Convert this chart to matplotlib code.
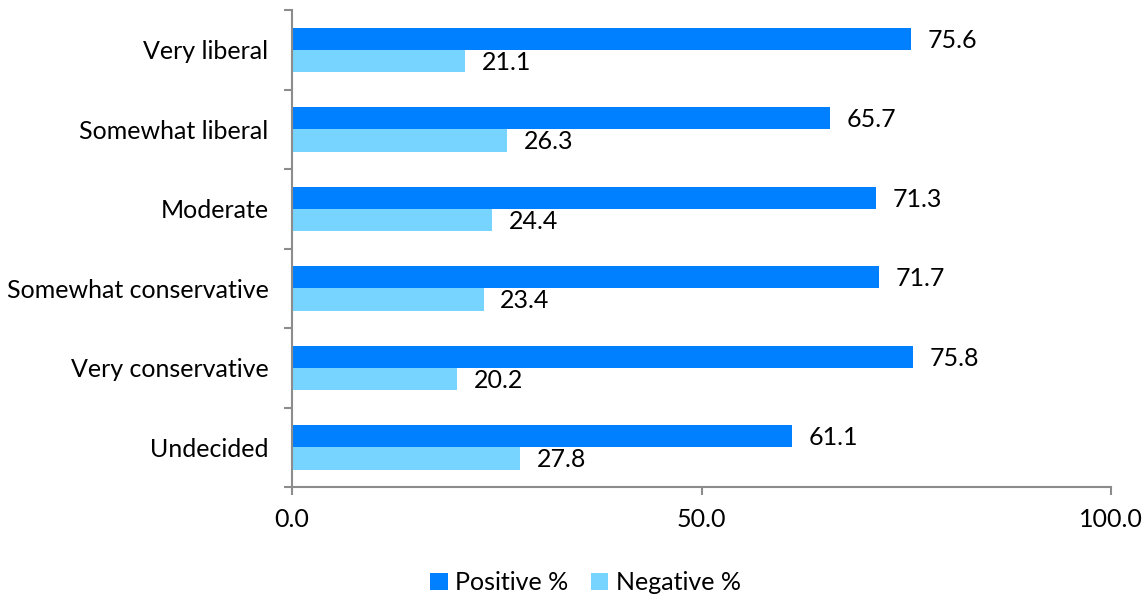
import numpy as np
import matplotlib.pyplot as plt

# Data
categories = ["Very liberal", "Somewhat liberal", "Moderate",
              "Somewhat conservative", "Very conservative", "Undecided"]
positive = [75.6, 65.7, 71.3, 71.7, 75.8, 61.1]
negative = [21.1, 26.3, 24.4, 23.4, 20.2, 27.8]

plt.rcParams['font.family'] = ['Lato', 'DejaVu Sans']
fs = 18

fig = plt.figure(figsize=(11.48, 6.0), dpi=100)
ax = fig.add_axes([0.2544, 0.1883, 0.9678 - 0.2544, 0.9833 - 0.1883])

y = np.arange(len(categories))
h = 0.28
pos_bars = ax.barh(y - h / 2, positive, height=h, color="#0080FF", label="Positive %")
neg_bars = ax.barh(y + h / 2, negative, height=h, color="#77D4FF", label="Negative %")

# Value labels to the right of each bar
for bars in (pos_bars, neg_bars):
    for b in bars:
        w = b.get_width()
        ax.annotate(f"{w:.1f}", (w, b.get_y() + b.get_height() / 2),
                    xytext=(12, -1), textcoords="offset points",
                    ha="left", va="center", fontsize=fs)

ax.set_xlim(0, 100)
ax.set_ylim(len(categories) - 0.5, -0.5)

ax.set_xticks([0, 50, 100])
ax.set_xticklabels(["0.0", "50.0", "100.0"], fontsize=fs)
ax.tick_params(axis="x", length=6, width=1.5, color="#8c8c8c", pad=9)

# Tick marks at category boundaries, labels at centers
ax.set_yticks(np.arange(-0.5, len(categories)), labels=[])
ax.set_yticks(y, labels=categories, minor=True)
ax.tick_params(axis="y", which="major", length=6, width=1.5, color="#8c8c8c")
ax.tick_params(axis="y", which="minor", length=0, pad=17, labelsize=fs)

for side in ("top", "right"):
    ax.spines[side].set_visible(False)
for side in ("left", "bottom"):
    ax.spines[side].set_color("#8c8c8c")
    ax.spines[side].set_linewidth(1.5)

fig.legend(loc="lower center", ncol=2, frameon=False, fontsize=fs,
           bbox_to_anchor=(0.51, -0.028), handlelength=0.7, handleheight=0.7,
           handletextpad=0.3, columnspacing=0.9)

plt.savefig("out.png", dpi=100)
